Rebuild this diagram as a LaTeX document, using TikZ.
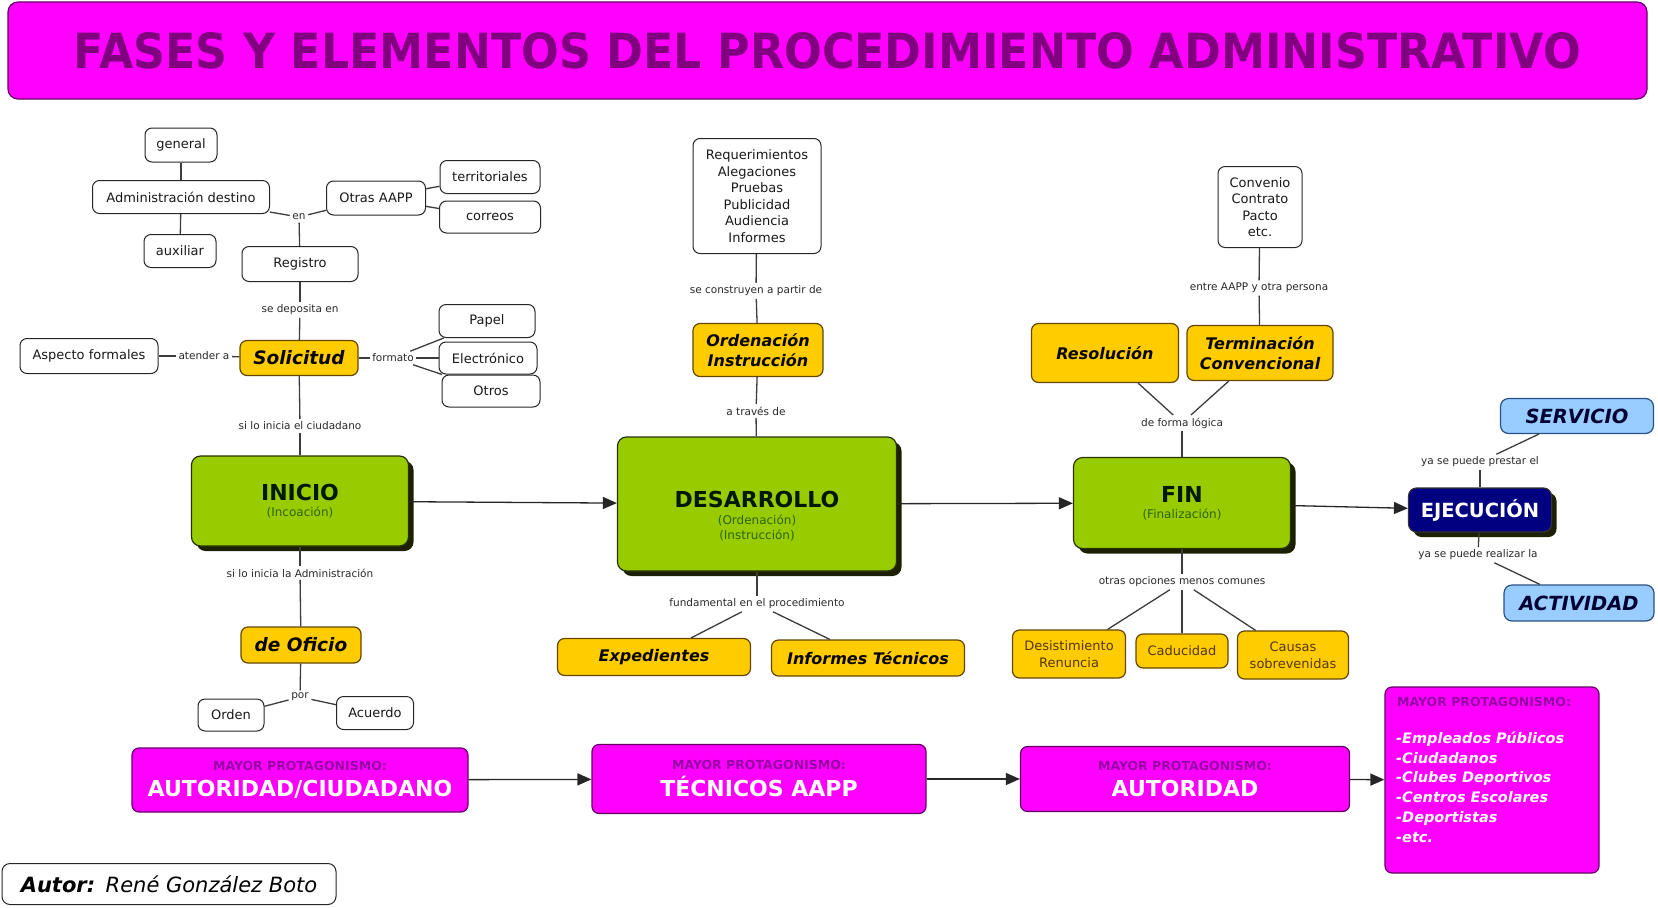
\documentclass[tikz,border=0pt]{standalone}
\usepackage{fontspec}
\usepackage{graphicx}
\setmainfont{DejaVu Sans}[BoldFont={DejaVu Sans Bold},ItalicFont={DejaVu Sans Oblique},BoldItalicFont={DejaVu Sans Bold Oblique}]
\usetikzlibrary{arrows.meta,shadows}
\definecolor{magen}{RGB}{255,0,255}
\definecolor{purpb}{RGB}{100,0,100}
\definecolor{titlep}{RGB}{128,0,128}
\definecolor{smallp}{RGB}{150,0,165}
\definecolor{greenf}{RGB}{153,204,0}
\definecolor{greenb}{RGB}{40,50,0}
\definecolor{shadowc}{RGB}{28,32,0}
\definecolor{dgreen}{RGB}{45,100,0}
\definecolor{goldf}{RGB}{255,204,0}
\definecolor{goldb}{RGB}{100,70,0}
\definecolor{goldt}{RGB}{85,55,0}
\definecolor{bluef}{RGB}{153,204,255}
\definecolor{blueb}{RGB}{40,80,130}
\definecolor{bluet}{RGB}{0,0,50}
\definecolor{navyf}{RGB}{0,0,128}
\definecolor{linec}{RGB}{60,60,60}
\definecolor{labelc}{RGB}{40,40,40}
\tikzset{
  wbox/.style={draw=black!85,line width=1pt,rounded corners=7pt,fill=white,font=\fontsize{13}{16.5}\selectfont,align=center,inner sep=2pt,text=black!90},
  gbox/.style={draw=goldb,line width=1.2pt,rounded corners=7pt,fill=goldf,align=center,inner sep=2pt},
  gibox/.style={gbox,font=\fontsize{16}{20}\selectfont\bfseries\itshape,text=black!90!goldb},
  gtbox/.style={gbox,font=\fontsize{13}{17}\selectfont,text=goldt},
  shad/.style={drop shadow={shadow xshift=5pt,shadow yshift=-5pt,fill=shadowc,opacity=1}},
  phase/.style={draw=greenb,line width=1.2pt,rounded corners=9pt,fill=greenf,shad},
  ptitle/.style={font=\fontsize{22}{26}\selectfont\bfseries,text=black!90!green,inner sep=0pt},
  psub/.style={font=\fontsize{12}{15}\selectfont,text=dgreen,inner sep=0pt,align=center},
  lbl/.style={font=\fontsize{10.5}{12}\selectfont,text=labelc,inner sep=2.5pt},
  conn/.style={draw=linec,line width=1.3pt},
  arr/.style={draw=black!85,line width=1.3pt,-{Triangle[length=14pt,width=12pt]}},
  magbox/.style={draw=purpb,line width=1.2pt,rounded corners=7pt,fill=magen},
  mtitle/.style={font=\fontsize{12.5}{15}\selectfont\bfseries,text=smallp,inner sep=0pt},
  mmain/.style={font=\fontsize{22}{26}\selectfont\bfseries,text=white,inner sep=0pt},
  bluebox/.style={draw=blueb,line width=1.2pt,rounded corners=8pt,fill=bluef,font=\fontsize{19.5}{22}\selectfont\bfseries\itshape,text=bluet},
  ejecbox/.style={draw=black!80,line width=1.2pt,rounded corners=8pt,fill=navyf,text=white,font=\fontsize{19.5}{22}\selectfont\bfseries,text height=14.2pt,text depth=0pt,shad}
}
\begin{document}
\begin{tikzpicture}[x=1pt,y=-1pt]
\useasboundingbox (0,0) rectangle (1658,908);
% title
\node[magbox,rounded corners=10pt,minimum width=1639pt,minimum height=97pt,inner sep=0pt] (title) at (827.5,50.5)
  {\resizebox{1507pt}{36pt}{\color{titlep}\bfseries FASES Y ELEMENTOS DEL PROCEDIMIENTO ADMINISTRATIVO}};
% left cluster
\node[wbox,minimum width=72pt,minimum height=34pt] (general) at (181,145) {general};
\node[wbox,minimum width=177pt,minimum height=33pt] (adm) at (181,197) {Administración destino};
\node[wbox,minimum width=72pt,minimum height=33pt] (aux) at (180,251) {auxiliar};
\node[lbl] (en) at (299,217) {en};
\node[wbox,minimum width=99pt,minimum height=34pt] (otras) at (376,198) {Otras AAPP};
\node[wbox,minimum width=100pt,minimum height=33pt] (terr) at (490,177) {territoriales};
\node[wbox,minimum width=101pt,minimum height=32pt] (correos) at (490,217) {correos};
\node[wbox,minimum width=116pt,minimum height=35pt] (registro) at (300,264) {Registro};
\node[lbl] (sedep) at (300,310) {se deposita en};
\node[gibox,font=\fontsize{18.5}{22}\selectfont\bfseries\itshape,minimum width=118pt,minimum height=35pt] (solic) at (299,358) {Solicitud};
\node[lbl] (formato) at (393,358) {formato};
\node[wbox,minimum width=96pt,minimum height=33pt] (papel) at (487,321) {Papel};
\node[wbox,minimum width=98pt,minimum height=32pt] (electr) at (488,358) {Electrónico};
\node[wbox,minimum width=98pt,minimum height=32pt] (otros) at (491,391) {Otros};
\node[wbox,minimum width=138pt,minimum height=35pt] (aspecto) at (89,356) {Aspecto formales};
\node[lbl] (atender) at (204,356) {atender a};
\node[lbl] (ciud) at (300,426) {si lo inicia el ciudadano};
\node[phase,minimum width=217pt,minimum height=90pt] (inicio) at (300,501) {};
\node[ptitle,anchor=base] (inicioT) at (300,500) {INICIO};
\node[psub,anchor=base] (inicioS) at (300,516) {(Incoación)};
\node[lbl] (admlbl) at (300,573) {si lo inicia la Administración};
\node[gibox,font=\fontsize{18.5}{22}\selectfont\bfseries\itshape,minimum width=120pt,minimum height=36pt] (oficio) at (301,645) {de Oficio};
\node[lbl] (por) at (300,697) {por};
\node[wbox,minimum width=66pt,minimum height=32pt] (orden) at (231,715) {Orden};
\node[wbox,minimum width=77pt,minimum height=33pt] (acuerdo) at (375,713) {Acuerdo};
% middle
\node[wbox,minimum width=128pt,minimum height=115pt] (req) at (757,196) {Requerimientos\\Alegaciones\\Pruebas\\Publicidad\\Audiencia\\Informes};
\node[lbl] (constr) at (756,291) {se construyen a partir de};
\node[gibox,minimum width=130pt,minimum height=53pt] (ordinst) at (758,350) {Ordenación\\Instrucción};
\node[lbl] (traves) at (756,411) {a través de};
\node[phase,minimum width=279pt,minimum height=134pt] (desa) at (757,504) {};
\node[ptitle,anchor=base] (desaT) at (757,507) {DESARROLLO};
\node[psub] (desaS) at (757,527.5) {(Ordenación)\\(Instrucción)};
\node[lbl] (fund) at (757,604) {fundamental en el procedimiento};
\node[gibox,minimum width=193pt,minimum height=37pt] (exped) at (654,657) {Expedientes};
\node[gibox,minimum width=193pt,minimum height=36pt] (inftec) at (868,658) {Informes Técnicos};
% right
\node[wbox,minimum width=84pt,minimum height=81pt] (conv) at (1260,207) {Convenio\\Contrato\\Pacto\\etc.};
\node[lbl] (entre) at (1259,288) {entre AAPP y otra persona};
\node[gibox,minimum width=147pt,minimum height=59pt] (resol) at (1105,353) {Resolución};
\node[gibox,minimum width=146pt,minimum height=55pt] (termc) at (1260,353) {Terminación\\Convencional};
\node[lbl] (logica) at (1182,423) {de forma lógica};
\node[phase,minimum width=217pt,minimum height=91pt] (fin) at (1182,503) {};
\node[ptitle,anchor=base] (finT) at (1182,502) {FIN};
\node[psub,anchor=base] (finS) at (1182,518) {(Finalización)};
\node[lbl] (otrasop) at (1182,582) {otras opciones menos comunes};
\node[gtbox,minimum width=113pt,minimum height=48pt] (desist) at (1069,654) {Desistimiento\\Renuncia};
\node[gtbox,minimum width=92pt,minimum height=34pt] (caduc) at (1182,651) {Caducidad};
\node[gtbox,minimum width=111pt,minimum height=48pt] (causas) at (1293,655) {Causas\\sobrevenidas};
% far right
\node[ejecbox,minimum width=143pt,minimum height=44pt] (ejec) at (1480,510) {EJECUCIÓN};
\node[lbl] (prestar) at (1480,462) {ya se puede prestar el};
\node[bluebox,minimum width=153pt,minimum height=35pt] (serv) at (1577,416) {SERVICIO};
\node[lbl] (realizar) at (1478,555) {ya se puede realizar la};
\node[bluebox,minimum width=150pt,minimum height=36pt] (activ) at (1579,603) {ACTIVIDAD};
% bottom
\node[magbox,minimum width=336pt,minimum height=64pt] (m1) at (300,780) {};
\node[mtitle,anchor=base] (m1a) at (300,770.5) {MAYOR PROTAGONISMO:};
\node[mmain,anchor=base] (m1b) at (300,796) {AUTORIDAD/CIUDADANO};
\node[magbox,minimum width=334pt,minimum height=69pt] (m2) at (759,779) {};
\node[mtitle,anchor=base] (m2a) at (759,769.5) {MAYOR PROTAGONISMO:};
\node[mmain,anchor=base] (m2b) at (759,796) {TÉCNICOS AAPP};
\node[magbox,minimum width=329pt,minimum height=65pt] (m3) at (1185,779) {};
\node[mtitle,anchor=base] (m3a) at (1185,770.5) {MAYOR PROTAGONISMO:};
\node[mmain,anchor=base] (m3b) at (1185,796) {AUTORIDAD};
\node[magbox,minimum width=214pt,minimum height=186pt] (big) at (1492,780) {};
\node[mtitle,anchor=base west] (bigT) at (1397,706.5) {MAYOR PROTAGONISMO:};
\node[font=\fontsize{14.5}{19.8}\selectfont\bfseries\itshape,text=white,align=left,anchor=west,inner sep=0pt] (bigL) at (1396,787)
  {-Empleados Públicos\\-Ciudadanos\\-Clubes Deportivos\\-Centros Escolares\\-Deportistas\\-etc.};
\node[wbox,minimum width=334pt,minimum height=41pt,rounded corners=8pt,font=\fontsize{21}{24}\selectfont,text=black] (autor) at (169,884)
  {{\bfseries\itshape Autor:}\enspace{\itshape René González Boto}};
% connectors
\draw[conn] (general) -- (adm);
\draw[conn] (adm) -- (aux);
\draw[conn] (adm) -- (en);
\draw[conn] (en) -- (otras);
\draw[conn] (en) -- (registro);
\draw[conn] (otras) -- (terr);
\draw[conn] (otras) -- (correos);
\draw[conn] (registro) -- (sedep);
\draw[conn] (sedep) -- (solic);
\draw[conn] (solic) -- (formato);
\draw[conn] (formato) -- (papel);
\draw[conn] (formato) -- (electr);
\draw[conn] (formato) -- (otros);
\draw[conn] (aspecto) -- (atender);
\draw[conn] (atender) -- (solic);
\draw[conn] (solic) -- (ciud);
\draw[conn] (ciud) -- (inicio);
\draw[conn] (inicio) -- (admlbl);
\draw[conn] (admlbl) -- (oficio);
\draw[conn] (oficio) -- (por);
\draw[conn] (por) -- (orden);
\draw[conn] (por) -- (acuerdo);
\draw[conn] (req) -- (constr);
\draw[conn] (constr) -- (ordinst);
\draw[conn] (ordinst) -- (traves);
\draw[conn] (traves) -- (desa);
\draw[conn] (desa) -- (fund);
\draw[conn] (fund) -- (exped);
\draw[conn] (fund) -- (inftec);
\draw[conn] (conv) -- (entre);
\draw[conn] (entre) -- (termc);
\draw[conn] (resol) -- (logica);
\draw[conn] (termc) -- (logica);
\draw[conn] (logica) -- (fin);
\draw[conn] (fin) -- (otrasop);
\draw[conn] (otrasop) -- (desist);
\draw[conn] (otrasop) -- (caduc);
\draw[conn] (otrasop) -- (causas);
\draw[conn] (serv) -- (prestar);
\draw[conn] (prestar) -- (ejec);
\draw[conn] (ejec) -- (realizar);
\draw[conn] (realizar) -- (activ);
\draw[arr] (inicio) -- (desa);
\draw[arr] (desa) -- (fin);
\draw[arr] (fin) -- (ejec);
\draw[arr] (m1) -- (m2);
\draw[arr] (m2) -- (m3);
\draw[arr] (m3) -- (big);
\end{tikzpicture}
\end{document}
